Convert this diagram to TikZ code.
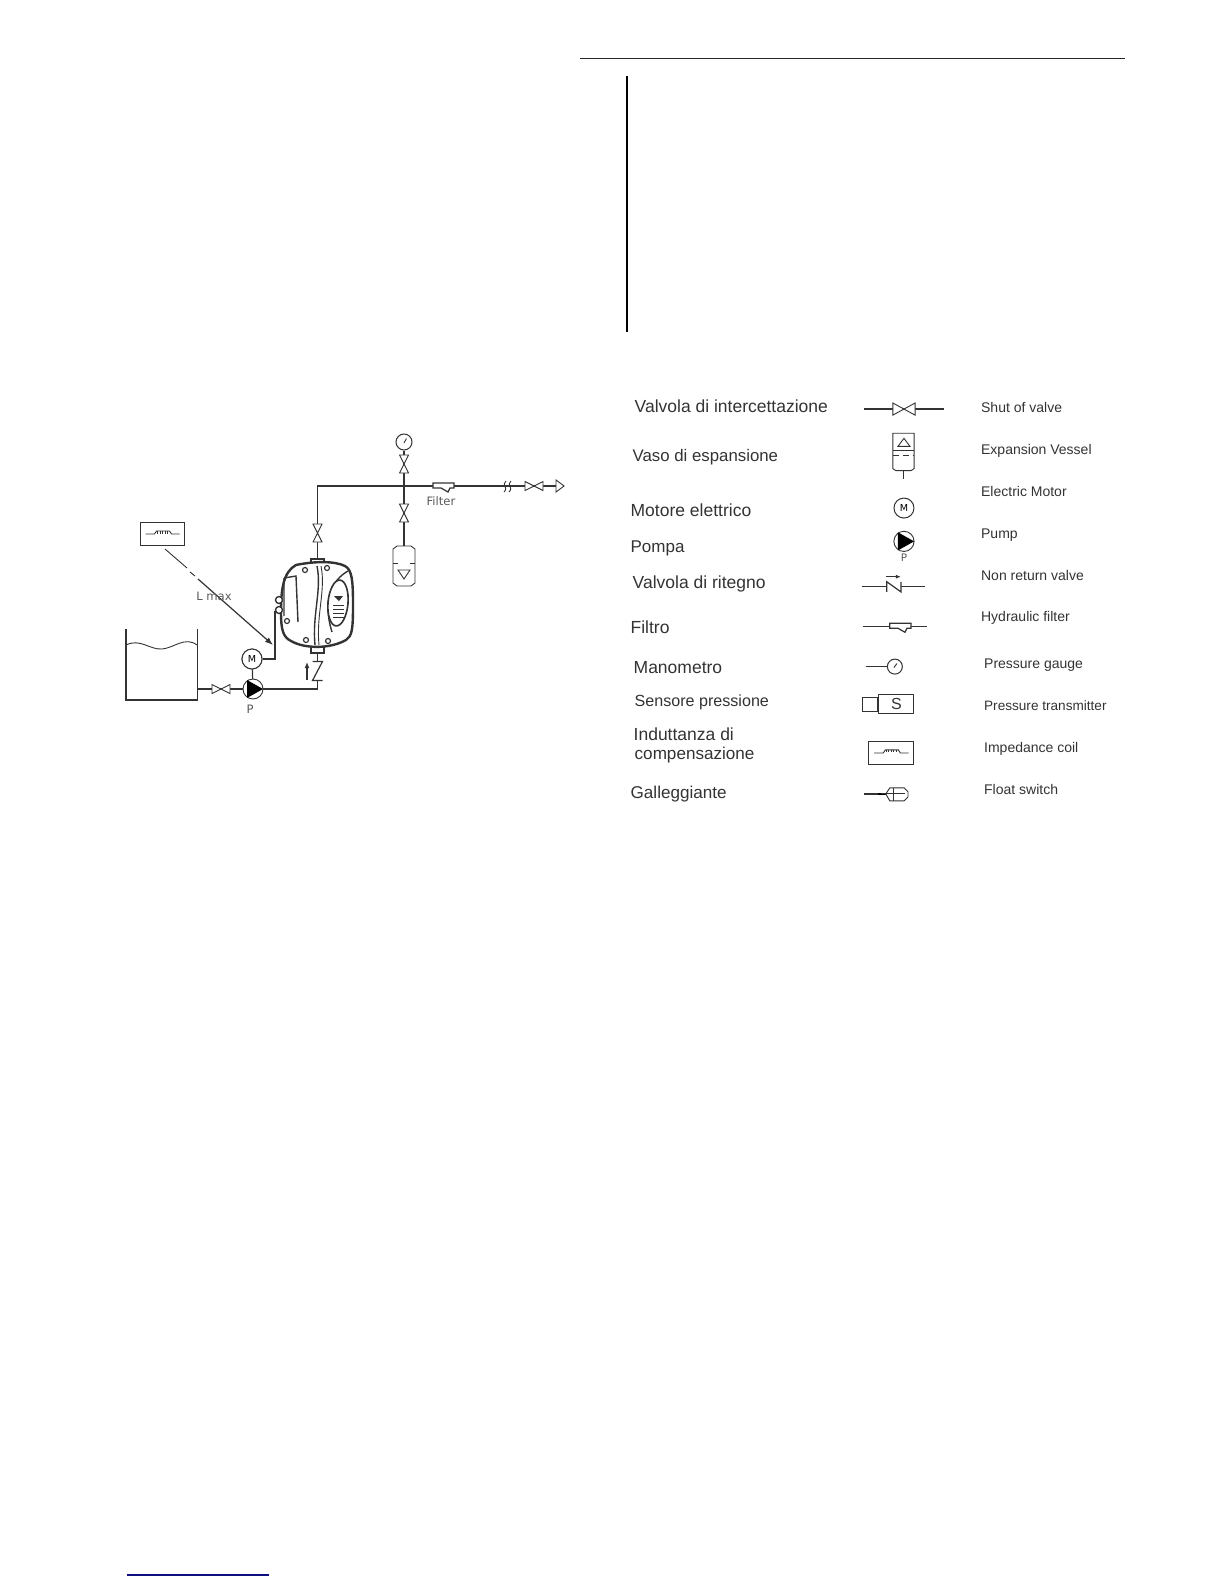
\documentclass[tikz,border=0pt]{standalone}
\usepackage{fontspec}
\setmainfont{Liberation Sans}
\newfontfamily\labelfont{DejaVu Sans}
\usetikzlibrary{arrows.meta}
\definecolor{inkgray}{gray}{0.2}
\definecolor{footblue}{RGB}{15,15,130}
\tikzset{
	pipe/.style={draw=inkgray, line width=0.6pt},
	thinline/.style={draw=inkgray, line width=0.45pt},
	legendit/.style={anchor=west, inner sep=0pt, text=inkgray, font=\fontsize{8.75}{10}\selectfont},
	legenden/.style={anchor=west, inner sep=0pt, text=inkgray, font=\fontsize{7}{8}\selectfont},
	tag/.style={inner sep=0pt, text=black!65, font=\labelfont\fontsize{5.8}{7}\selectfont},
	roundel/.style={circle, draw=inkgray, line width=0.5pt, fill=white, minimum size=10pt, inner sep=0pt, font=\labelfont\fontsize{4.8}{6}\selectfont},
	gaugeball/.style={circle, draw=inkgray, line width=0.5pt, fill=white, minimum size=7.5pt, inner sep=0pt},
	box/.style={rectangle, draw=inkgray, line width=0.5pt, fill=white, inner sep=0pt},
	valve/.pic={\draw[thinline, fill=white] (-9,-4.5) -- (9,4.5) -- (9,-4.5) -- (-9,4.5) -- cycle;},
	bigvalve/.pic={\draw[thinline, fill=white] (-11,-6) -- (11,6) -- (11,-6) -- (-11,6) -- cycle;},
	pumpbody/.pic={\draw[thinline, fill=white] (0,0) circle (10); \fill[black] (-6,-9) -- (10,0) -- (-6,9) -- cycle;},
	coil/.pic={\draw[thinline] (-17,0) -- (-8,0) -- (-6,-3) -- (7,-3) -- (9,0) -- (17,0);
		\foreach \tx in {-5,-2.5,0,2.5,5} \draw[thinline] (\tx,-3) -- (\tx,-0.5);},
	checkz/.pic={\draw[pipe] (-5,-9.5) -- (5,-9.5) -- (-5,9.5) -- (5,9.5);},
	filterbody/.pic={\draw[pipe, fill=white] (-10,-3) -- (11,-3) -- (11,2) -- (7,2) -- (5,6) -- (-2,2) -- (-10,2) -- cycle;},
	vesselbody/.pic={\draw[thinline, fill=white] (-7,-20) -- (7,-20) -- (11,-17) -- (11,17) -- (7,20) -- (-7,20) -- (-11,17) -- (-11,-17) -- cycle;
		\draw[thinline] (-11,-3) -- (-6,-3) (6,-3) -- (11,-3);
		\draw[thinline] (-6,4) -- (6,4) -- (0,13) -- cycle;},
}
\begin{document}
\begin{tikzpicture}[x=0.5pt, y=-0.5pt]
	\useasboundingbox (0,0) rectangle (1224,1584);
	% footnote rule
	\coordinate (foota) at (127,1575);
	\coordinate (footb) at (269,1575);
	\draw[draw=footblue, line width=0.6pt] (foota) -- (footb);

	% tank
	\coordinate (tanktl) at (126,629);
	\coordinate (tankbl) at (126,700);
	\coordinate (tankbr) at (197.5,700);
	\coordinate (tanktr) at (197.5,629);
	\coordinate (tankout) at (197.5,689);
	\draw[pipe] (tanktl) -- (tankbl) -- (tankbr) -- (tanktr);
	\draw[thinline] (126,645) .. controls (140,638) and (150,650) .. (162,649) .. controls (174,648) and (185,636) .. (197,645);

	% pipes
	\coordinate (sucvalve) at (221,689);
	\coordinate (elbowlow) at (317.5,689);
	\coordinate (checkv) at (317.5,671);
	\coordinate (checka) at (317.5,680.5);
	\coordinate (checkb) at (317.5,661.5);
	\coordinate (devbottom) at (317.5,653);
	\coordinate (devtop) at (317.5,558);
	\coordinate (upvalve) at (317.5,533);
	\coordinate (elbowup) at (317.5,486);
	\coordinate (tee) at (404,486);
	\coordinate (gaugevalve) at (404,464);
	\coordinate (vesselvalve) at (404,513);
	\coordinate (filterbox) at (443,486);
	\coordinate (breakp) at (507,486);
	\coordinate (outvalve) at (534,486);
	\coordinate (outend) at (556,486);
	\node[roundel] (motor) at (252,659) {M};
	\coordinate (pumpc) at (253,689);
	\node[gaugeball, minimum size=8pt] (gauge) at (404,442) {};
	\coordinate (vesselc) at (404,566);
	\coordinate (sensorin) at (275,611);
	\draw[pipe] (tankout) -- (pumpc) -- (elbowlow) -- (checka);
	\draw[pipe] (checkb) -- (devbottom);
	\draw[pipe] (devtop) -- (elbowup) -- (breakp) -- (outend);
	\draw[pipe] (gauge) -- (vesselc);
	\draw[pipe] (motor) -- (pumpc);
	\draw[pipe] (motor.east) -| (sensorin);
	\node[roundel] at (motor) {M};
	\draw[thinline] (404,443) -- (406.5,438.5);
	\pic at (sucvalve) {valve};
	\pic at (pumpc) {pumpbody};
	\pic at (checkv) {checkz};
	\pic[rotate=90] at (upvalve) {valve};
	\pic[rotate=90] at (gaugevalve) {valve};
	\pic[rotate=90] at (vesselvalve) {valve};
	\pic at (filterbox) {filterbody};
	\pic at (outvalve) {valve};
	\pic at (vesselc) {vesselbody};
	\draw[thinline, fill=white] (556,480) -- (564,486) -- (556,492) -- cycle;
	\draw[thinline] (506,481) .. controls (501,485) and (509,487) .. (504,492) (511,481) .. controls (506,485) and (514,487) .. (509,492);
	\node[tag] (lblp) at (250,709) {P};
	\node[tag] (lblfilter) at (441,501) {Filter};
	\coordinate (arrowa) at (307,680);
	\coordinate (arrowb) at (307,662);
	\draw[pipe, -{Latex[length=3pt,width=2.5pt]}] (arrowa) -- (arrowb);

	% device
	\draw[draw=inkgray, line width=0.8pt, fill=white] (311,566) -- (311,559) -- (324,559) -- (324,566);
	\draw[draw=inkgray, line width=0.8pt, fill=white] (311,647) -- (311,653) -- (324,653) -- (324,647);
	\draw[draw=inkgray, line width=1.2pt, fill=white] (296,565) .. controls (315,561) and (335,561) .. (345,566) .. controls (352,570) and (353,580) .. (353,605) .. controls (353,630) and (352,636) .. (346,640) .. controls (330,649) and (305,649) .. (291,641) .. controls (283,637) and (281,630) .. (281,612) .. controls (281,590) and (283,572) .. (296,565) -- cycle;
	\draw[pipe, line width=0.7pt] (284,578) -- (296,576) -- (298,622) (284,578) -- (284,616);
	\draw[thinline, line width=0.7pt] (317,566) .. controls (322,590) and (312,615) .. (315,645);
	\draw[thinline] (321,566) .. controls (326,590) and (316,615) .. (319,645);
	\draw[thinline, line width=0.7pt] (348,571) .. controls (332,580) and (322,600) .. (332,632);
	\draw[draw=inkgray, line width=0.8pt, rotate around={-5:(338,603)}, fill=white] (338,603) ellipse (10 and 23);
	\fill[inkgray] (334,596) -- (343,596) -- (339,601) -- cycle;
	\foreach \ly in {605,609,613,617} \draw[thinline] (333,\ly) -- (344,\ly);
	\foreach \sx/\sy in {305/570, 327/568, 306/640, 328/641, 287/621} \draw[pipe, fill=white] (\sx,\sy) circle (2.5);
	\foreach \sy in {600,610} \draw[draw=inkgray, line width=0.7pt, fill=white] (279,\sy) circle (3.5);

	% coil and cable
	\node[box, minimum width=22pt, minimum height=11.5pt] (coilbox) at (162.5,534) {};
	\pic at (coilbox) {coil};
	\coordinate (cablea) at (165,549);
	\coordinate (cableb) at (187,568);
	\coordinate (cablec) at (190,572);
	\coordinate (cabled) at (195,576);
	\coordinate (cablee) at (198,579);
	\coordinate (cablef) at (273,645);
	\draw[thinline] (cablea) -- (cableb) (cablec) -- (cabled);
	\draw[pipe, -{Latex[length=4pt,width=3pt]}] (cablee) -- (cablef);
	\node[tag] (lmax) at (214,596) {L max};

	\begin{scope}[x=0.505pt, y=-0.505pt]
	% page rules
	\coordinate (topa) at (574,58);
	\coordinate (topb) at (1114,58);
	\draw[draw=black!85, line width=0.6pt] (topa) -- (topb);
	\coordinate (bara) at (620.5,75);
	\coordinate (barb) at (620.5,329);
	\draw[black, line width=1pt] (bara) -- (barb);

	% italian labels
	\node[legendit] (itvalve) at (628,402) {Valvola di intercettazione};
	\node[legendit, font=\fontsize{8.4}{10}\selectfont] (itvessel) at (626,453) {Vaso di espansione};
	\node[legendit] (itmotor) at (624,505) {Motore elettrico};
	\node[legendit, font=\fontsize{8.5}{10}\selectfont] (itpump) at (624,543) {Pompa};
	\node[legendit] (itcheck) at (626,578) {Valvola di ritegno};
	\node[legendit] (itfilter) at (624,621) {Filtro};
	\node[legendit] (itgauge) at (627,661) {Manometro};
	\node[legendit, font=\fontsize{8.05}{10}\selectfont] (itsensor) at (628,695) {Sensore pressione};
	\node[legendit] (itcoila) at (627,727) {Induttanza di};
	\node[legendit, font=\fontsize{8.55}{10}\selectfont] (itcoilb) at (628,748) {compensazione};
	\node[legendit, font=\fontsize{8.55}{10}\selectfont] (itfloat) at (624,786) {Galleggiante};

	% english labels
	\node[legenden] (envalve) at (971,403) {Shut of valve};
	\node[legenden] (envessel) at (971,446) {Expansion Vessel};
	\node[legenden] (enmotor) at (971,487) {Electric Motor};
	\node[legenden] (enpump) at (971,530) {Pump};
	\node[legenden] (encheck) at (971,570) {Non return valve};
	\node[legenden] (enfilter) at (971,612) {Hydraulic filter};
	\node[legenden] (engauge) at (974,659) {Pressure gauge};
	\node[legenden, font=\fontsize{6.8}{8}\selectfont] (ensensor) at (974,699) {Pressure transmitter};
	\node[legenden] (encoil) at (974,741) {Impedance coil};
	\node[legenden] (enfloat) at (974,782) {Float switch};

	% legend symbols
	\coordinate (sva) at (855,405);
	\coordinate (svb) at (935,405);
	\draw[pipe] (sva) -- (svb);
	\pic at (895,405) {bigvalve};

	\coordinate (sva2) at (894,474);
	\draw[thinline] (894,466) -- (sva2);
	\draw[thinline, fill=white] (884,429) -- (905,429) -- (905,464) -- (902,466) -- (887,466) -- (884,464) -- cycle;
	\draw[pipe] (884,446) -- (905,446);
	\draw[thinline, densely dashed] (884,451) -- (905,451);
	\draw[thinline] (889,442) -- (901,442) -- (895,434) -- cycle;

	\node[roundel] (symmotor) at (895,503) {M};
	\pic at (895,536) {pumpbody};
	\node[tag, font=\labelfont\fontsize{5.2}{6}\selectfont] (symp) at (895,552) {P};

	\coordinate (sca) at (853,581);
	\coordinate (scb) at (916,581);
	\draw[pipe] (sca) -- (878,581) (892,581) -- (scb);
	\draw[pipe] (878,586) -- (878,576) -- (892,586) -- (892,576);
	\draw[pipe, -{Latex[length=2.5pt,width=2pt]}] (877,571) -- (892,571);

	\coordinate (sfa) at (854,620);
	\coordinate (sfb) at (918,620);
	\draw[pipe] (sfa) -- (sfb);
	\pic at (891,620) {filterbody};

	\node[gaugeball] (symgauge) at (886,660) {};
	\coordinate (sga) at (857,660);
	\draw[pipe] (sga) -- (symgauge);
	\draw[thinline] (885,661) -- (888,657);

	\node[box, minimum width=17.5pt, minimum height=9.5pt, font=\fontsize{8}{8}\selectfont, text=inkgray] (symsensor) at (887.5,697.5) {S};
	\node[box, anchor=east, minimum width=7.5pt, minimum height=7pt] (symsensorb) at (symsensor.west) {};

	\node[box, minimum width=22.5pt, minimum height=11.5pt] (symcoil) at (882.5,745.5) {};
	\pic at (symcoil) {coil};

	\coordinate (sfl) at (855,786);
	\draw[draw=inkgray, line width=0.8pt] (sfl) -- (876,786);
	\draw[black, line width=1.3pt] (869,786) -- (878,786);
	\draw[thinline, fill=white] (877,786) -- (881,780) -- (895,780) -- (899,784) -- (899,789) -- (895,793) -- (881,793) -- cycle;
	\draw[thinline] (872,786) -- (896,786) (885,780) -- (885,793);
	\end{scope}
\end{tikzpicture}
\end{document}
